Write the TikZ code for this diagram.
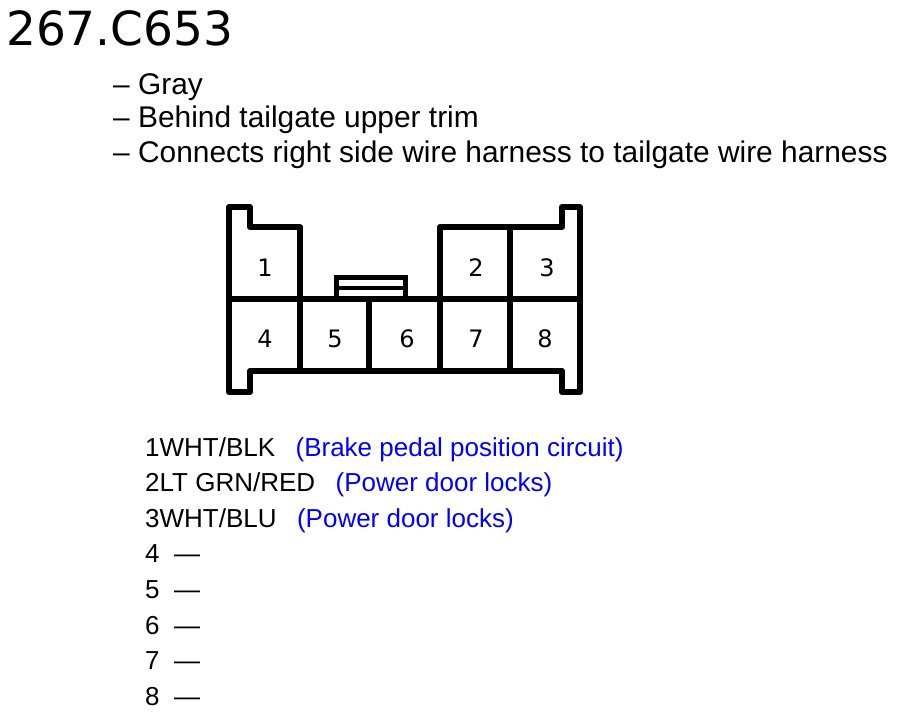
\documentclass[tikz,border=0pt]{standalone}
\usepackage{fontspec}
\setmainfont{Liberation Sans}
\newfontfamily\dejavu{DejaVu Sans}
\usetikzlibrary{positioning}
\begin{document}
\begin{tikzpicture}
	[	x=1pt,y=-1pt,				% 1 px of the reference
		pin/.style={font=\dejavu\fontsize{24}{24}\selectfont},
		note/.style={anchor=base west,inner sep=0pt,font=\fontsize{29.9}{29.9}\selectfont},
		wire/.style={anchor=base west,inner sep=0pt,font=\fontsize{26}{26}\selectfont},
		circ/.style={wire,text=blue}	]
	\useasboundingbox (0,0) rectangle (898,715);
	\node[anchor=west,inner sep=0pt,font=\dejavu\fontsize{47}{47}\selectfont] (title) at (6,28) {267.C653};
	\node[note] (n1) at (113,94) {– Gray};
	\node[note] (n2) at (113,127) {– Behind tailgate upper trim};
	\node[note] (n3) at (113,162) {– Connects right side wire harness to tailgate wire harness};
	% connector housing
	\draw[line width=6pt,line join=round]
		(229,207) -- (250,207) -- (250,227) -- (300,227) -- (300,299)
		-- (440,299) -- (440,227) -- (562,227) -- (562,207) -- (580,207)
		-- (580,392) -- (562,392) -- (562,371) -- (250,371) -- (250,392)
		-- (229,392) -- cycle;
	\draw[line width=6pt] (229,299) -- (300,299) (440,299) -- (580,299);
	\draw[line width=6pt] (510,227) -- (510,371);
	\foreach \x in {300,369,440}
		\draw[line width=6pt] (\x,299) -- (\x,371);
	\draw[line width=5pt] (336,299) -- (336,277) -- (405,277) -- (405,299);	% latch
	\draw[line width=4pt] (336,288) -- (405,288);
	\foreach \n/\x/\y in {1/265/268,2/476/268,3/547/268,4/265/339,5/335/339,6/407/339,7/476/339,8/545/339}
		\node[pin] (p\n) at (\x,\y) {\n};
	% wire list
	\node[wire] (w1) at (145,456) {1WHT/BLK};
	\node[circ,right=20pt of w1.base east,anchor=base west] (c1) {(Brake pedal position circuit)};
	\node[wire] (w2) at (145,491) {2LT GRN/RED};
	\node[circ,right=20pt of w2.base east,anchor=base west] (c2) {(Power door locks)};
	\node[wire] (w3) at (145,527) {3WHT/BLU};
	\node[circ,right=20pt of w3.base east,anchor=base west] (c3) {(Power door locks)};
	\foreach \n/\y in {4/562,5/598,6/634,7/669,8/705}
		\node[wire] (w\n) at (145,\y) {\n\ \ —};
\end{tikzpicture}
\end{document}
